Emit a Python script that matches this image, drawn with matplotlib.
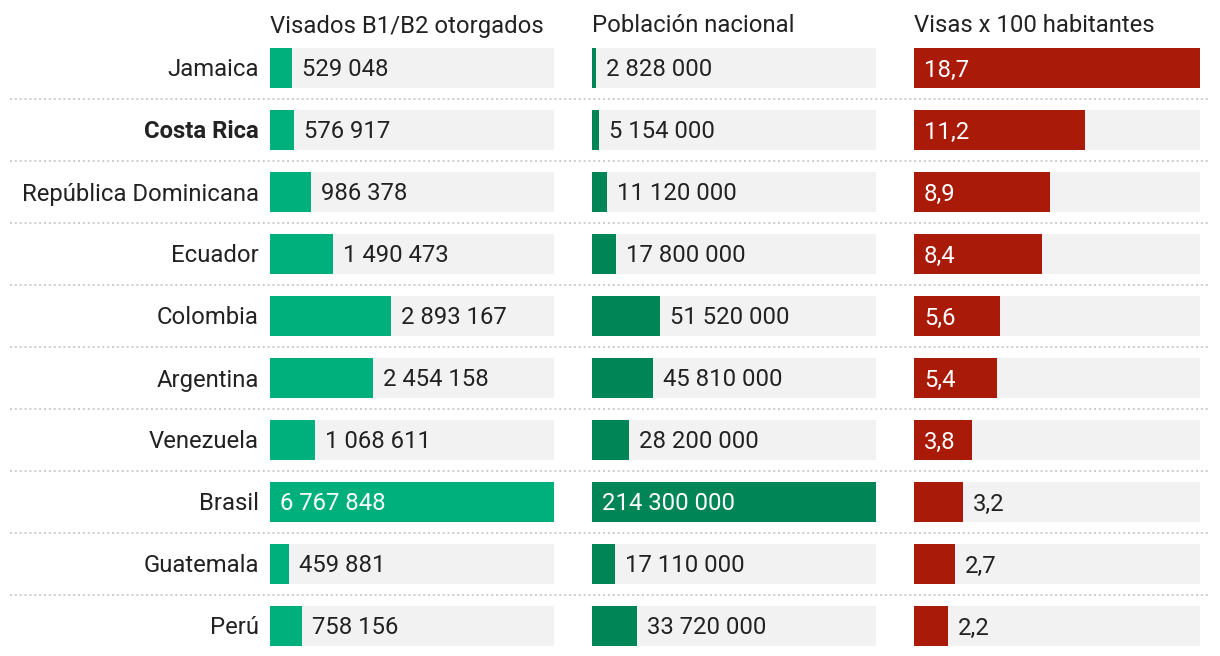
import matplotlib.pyplot as plt

plt.rcParams["font.family"] = ["Roboto", "DejaVu Sans"]

countries = ["Jamaica", "Costa Rica", "República Dominicana", "Ecuador", "Colombia",
             "Argentina", "Venezuela", "Brasil", "Guatemala", "Perú"]
visas = [529048, 576917, 986378, 1490473, 2893167, 2454158, 1068611, 6767848, 459881, 758156]
population = [2828000, 5154000, 11120000, 17800000, 51520000, 45810000, 28200000,
              214300000, 17110000, 33720000]
rate = [18.7, 11.2, 8.9, 8.4, 5.6, 5.4, 3.8, 3.2, 2.7, 2.2]
titles = ["Visados B1/B2 otorgados", "Población nacional", "Visas x 100 habitantes"]

W, H = 1220, 656
fig = plt.figure(figsize=(W / 100, H / 100), dpi=100)
FS = 17.2
DARK = "#222222"
DY = -2 * 0.72  # nudge text down ~2px

# vertical mapping: row i centred at 68 + 62*i px
y_top, y_bot = 37, 657
n = len(countries)


def px_box(x0, width):
    return [x0 / W, (H - y_bot) / H, width / W, (y_bot - y_top) / H]


# background axes for separators and row labels
bg = fig.add_axes(px_box(0, W))
bg.set_xlim(0, W)
bg.set_ylim(n - 0.5, -0.5)
bg.axis("off")
bg.hlines([i + 0.5 for i in range(n - 1)], 10, 1208, colors="#cccccc",
          linestyles=(0, (1, 1.5)), linewidth=1.4)
for i, c in enumerate(countries):
    bg.annotate(c, xy=(259, i), xytext=(0, DY), textcoords="offset points",
                ha="right", va="center", fontsize=FS, color=DARK,
                fontweight="bold" if c == "Costa Rica" else "normal")


def fmt_int(v):
    return f"{v:,}".replace(",", " ")


def fmt_dec(v):
    return f"{v:.1f}".replace(".", ",")


columns = [
    (270, 284, visas, "#00b07c", fmt_int),
    (592, 284, population, "#008556", fmt_int),
    (914, 286, rate, "#aa1a09", fmt_dec),
]

renderer = fig.canvas.get_renderer()
for (x0, width, values, color, fmt), title in zip(columns, titles):
    ax = fig.add_axes(px_box(x0, width))
    vmax = max(values)
    ax.set_xlim(0, vmax)
    ax.set_ylim(n - 0.5, -0.5)
    ax.axis("off")
    ys = range(n)
    ax.barh(ys, [vmax] * n, height=40 / 62, color="#f2f2f2", linewidth=0)
    ax.barh(ys, values, height=40 / 62, color=color, linewidth=0)
    ax.annotate(title, xy=(0, -0.5), xycoords="data", xytext=(0, 13 * 0.72 + DY),
                textcoords="offset points", ha="left", va="center",
                fontsize=FS, color=DARK, annotation_clip=False)
    for i, v in enumerate(values):
        label = fmt(v)
        t = ax.text(0, i, label, fontsize=FS)
        tw = t.get_window_extent(renderer).width
        t.remove()
        bar_px = v / vmax * width
        if bar_px > tw + 25:
            ax.annotate(label, xy=(0, i), xytext=(7.2, DY), textcoords="offset points",
                        ha="left", va="center", fontsize=FS, color="white")
        else:
            ax.annotate(label, xy=(v, i), xytext=(7.2, DY), textcoords="offset points",
                        ha="left", va="center", fontsize=FS, color=DARK)

fig.savefig("out.png", dpi=100, facecolor="white")
